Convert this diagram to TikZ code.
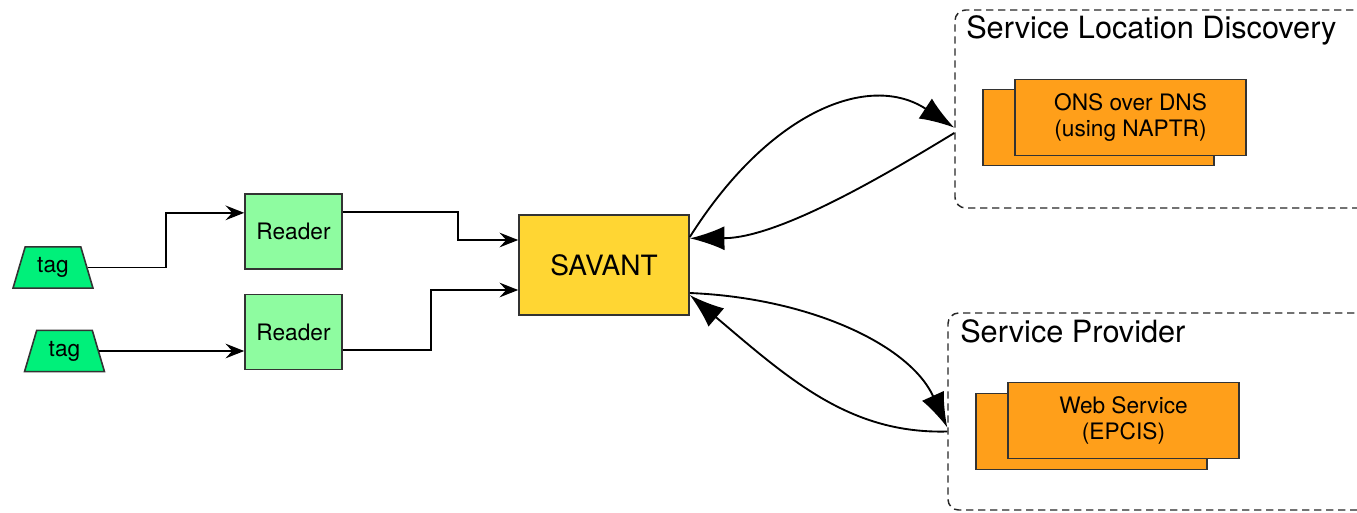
\documentclass[tikz,border=0pt]{standalone}
\usepackage{fontspec}
\setmainfont{TeX Gyre Heros}
\usetikzlibrary{shapes.geometric,arrows.meta,calc}
\definecolor{taggreen}{HTML}{00F07A}
\definecolor{readergreen}{HTML}{8EFCA0}
\definecolor{savantgold}{HTML}{FFD633}
\definecolor{svcorange}{HTML}{FF9F1A}
\definecolor{edgegray}{HTML}{333333}
\tikzset{
  smalltext/.style={font=\fontsize{17}{20}\selectfont},
  tagbox/.style={trapezium, trapezium stretches=true, trapezium left angle=71, trapezium right angle=71,
    draw=edgegray, line width=1.2pt, fill=taggreen, minimum width=60pt, minimum height=31pt, inner sep=0pt, smalltext},
  readerbox/.style={draw=edgegray, line width=1.2pt, fill=readergreen, minimum width=72.75pt, minimum height=56.25pt, inner sep=0pt, smalltext},
  savantbox/.style={draw=edgegray, line width=1.2pt, fill=savantgold, minimum width=127.5pt, minimum height=75pt, inner sep=0pt, font=\fontsize{21}{25}\selectfont},
  svcbox/.style={draw=edgegray, line width=1.2pt, fill=svcorange, minimum width=173.25pt, minimum height=57pt, inner sep=0pt, align=center, smalltext},
  groupbox/.style={draw=black!85, dash pattern=on 5.5pt off 3.5pt, line width=1.1pt, rounded corners=8pt, inner sep=0pt},
  grouptitle/.style={anchor=base west, inner sep=0pt, font=\fontsize{23}{27}\selectfont},
  flow/.style={line width=1.4pt, -{Stealth[length=14pt,width=11pt,inset=5pt]}},
  bigflow/.style={line width=1.4pt, -{Latex[length=26pt,width=18pt]}},
}
\begin{document}
\begin{tikzpicture}[x=0.75pt,y=-0.75pt]
\useasboundingbox (0,0) rectangle (1357,512);
\clip (0,0) rectangle (1357,512);
% group boxes
\node[groupbox, minimum width=333.75pt, minimum height=148.5pt] (sld) at (1177.5,109) {};
\node[grouptitle] (sldt) at (966,38) {Service Location Discovery};
\node[groupbox, minimum width=339.75pt, minimum height=147.75pt] (sp) at (1174.5,411.5) {};
\node[grouptitle] (spt) at (960,342) {Service Provider};
% service stacks
\node[svcbox] (onsb) at (1098.5,127.5) {};
\node[svcbox] (ons) at (1130.5,117.5) {ONS over DNS\\(using NAPTR)};
\node[svcbox] (wsb) at (1091.5,431.5) {};
\node[svcbox] (ws) at (1123.5,420.5) {Web Service\\(EPCIS)};
% left side
\node[tagbox] (tag1) at (53,267.5) {tag};
\node[tagbox] (tag2) at (64.5,351) {tag};
\node[readerbox] (r1) at (293.5,231.5) {Reader};
\node[readerbox] (r2) at (293.5,332) {Reader};
\node[savantbox] (sav) at (604,265) {SAVANT};
% connectors
\draw[flow] (tag1.east) -- ++(78,0) |- ([yshift=14pt]r1.west);
\draw[flow] (tag2.east) -- (tag2.east -| r2.west);
\draw[flow] ([yshift=14.6pt]r1.east) -- ++(115,0) |- ([yshift=18.75pt]sav.west);
\draw[flow] ([yshift=-13.5pt]r2.east) -- ++(88,0) |- ([yshift=-18.75pt]sav.west);
% curved connectors
\draw[bigflow] ([yshift=21pt]sav.east) .. controls (770,110) and (870,72) .. ([yshift=-14pt]sld.west);
\draw[bigflow] ([yshift=-18pt]sld.west) .. controls (890,172) and (780,238) .. ([yshift=20pt]sav.east);
\draw[bigflow] ([yshift=-21pt]sav.east) .. controls (810,298) and (910,345) .. ([yshift=-12pt]sp.west);
\draw[bigflow] ([yshift=-15pt]sp.west) .. controls (850,434) and (790,380) .. ([yshift=-22.5pt]sav.east);
\end{tikzpicture}
\end{document}
